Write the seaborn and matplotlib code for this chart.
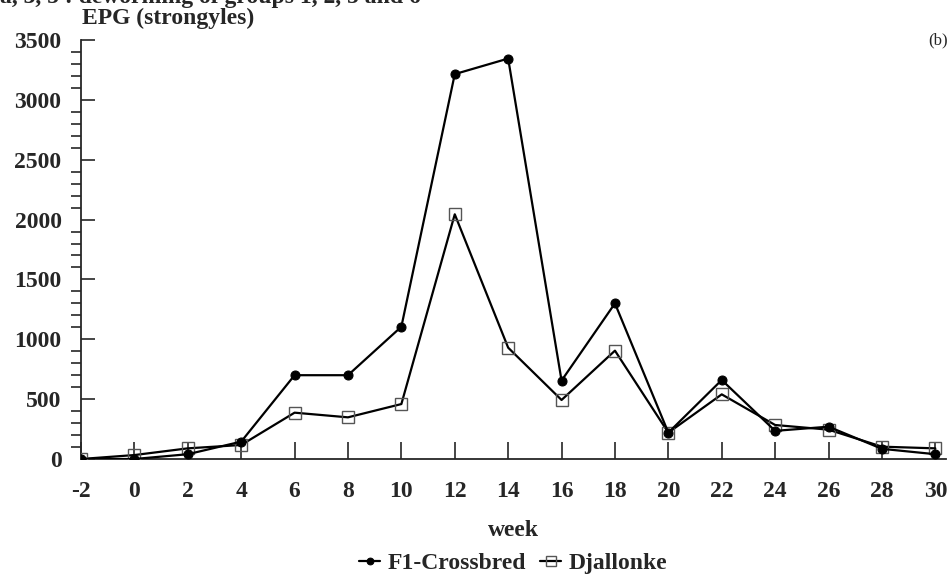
import matplotlib
matplotlib.use("Agg")
import matplotlib.pyplot as plt
import seaborn as sns
import pandas as pd
from matplotlib.ticker import MultipleLocator

weeks = [-2, 0, 2, 4, 6, 8, 10, 12, 14, 16, 18, 20, 22, 24, 26, 28, 30]
f1_crossbred = [0, 0, 40, 145, 700, 700, 1105, 3215, 3345, 655, 1300, 220, 660, 235, 270, 85, 40]
djallonke = [0, 33, 89, 117, 387, 348, 459, 2044, 930, 493, 905, 220, 540, 284, 245, 103, 89]
series_names = ["F1-Crossbred", "Djallonke"]
y_ticks = [0, 500, 1000, 1500, 2000, 2500, 3000, 3500]

df = pd.DataFrame({
    "week": weeks * 2,
    "EPG": f1_crossbred + djallonke,
    "breed": [series_names[0]] * len(weeks) + [series_names[1]] * len(weeks),
})

sns.set_style("ticks")
plt.rcParams["font.family"] = ["Liberation Serif", "DejaVu Serif"]
plt.rcParams["font.weight"] = "bold"
plt.rcParams["axes.unicode_minus"] = False

FS = 17

fig = plt.figure(figsize=(9.51, 5.81), dpi=100)
ax = fig.add_axes([81 / 951, 1 - 459 / 581, (946 - 81) / 951, (459 - 40) / 581])

sns.lineplot(data=df[df.breed == series_names[0]], x="week", y="EPG", ax=ax,
             color="black", lw=1.6, marker="o", markersize=6.5,
             markerfacecolor="black", markeredgecolor="black",
             label=series_names[0], zorder=4)
sns.lineplot(data=df[df.breed == series_names[1]], x="week", y="EPG", ax=ax,
             color="black", lw=1.6, marker="s", markersize=9,
             markerfacecolor="none", markeredgecolor="#555555", markeredgewidth=1.0,
             label=series_names[1], zorder=3)

ax.set_xlim(-2, 30.4)
ax.set_ylim(0, 3500)
ax.set_xticks(weeks)
ax.set_yticks(y_ticks)
ax.yaxis.set_minor_locator(MultipleLocator(100))
ax.tick_params(axis="y", which="major", direction="in", length=10, width=1.2,
               labelsize=FS, pad=14)
ax.tick_params(axis="y", which="minor", direction="out", length=7, width=1.2)
ax.tick_params(axis="x", which="major", direction="in", length=12, width=1.2,
               labelsize=FS, pad=16)
for lab in ax.get_xticklabels() + ax.get_yticklabels():
    lab.set_fontweight("bold")
sns.despine(ax=ax, top=True, right=True)
for s in ["left", "bottom"]:
    ax.spines[s].set_linewidth(1.3)

ax.set_xlabel("week", fontsize=FS, fontweight="bold", labelpad=13)
ax.set_ylabel("")
ax.get_legend().remove()

fig.text(82 / 951, 1 - 18 / 581, "EPG (strongyles)", fontsize=FS, fontweight="bold",
         ha="left", va="center")
fig.text(948 / 951, 1 - 40 / 581, "(b)", fontsize=12, fontweight="normal",
         ha="right", va="center")
fig.text(0, 1 + 2 / 581, "a, 3, 5 : deworming of groups 1, 2, 5 and 6", fontsize=FS,
         fontweight="bold", ha="left", va="center")

handles, labels = ax.get_legend_handles_labels()
fig.legend(handles, labels, loc="center", bbox_to_anchor=(513 / 951, 1 - 563 / 581),
           ncol=2, frameon=False, handlelength=0.9, handletextpad=0.3,
           columnspacing=0.6, markerscale=0.75, prop={"size": FS, "weight": "bold"})

fig.savefig("out.png", dpi=100)
